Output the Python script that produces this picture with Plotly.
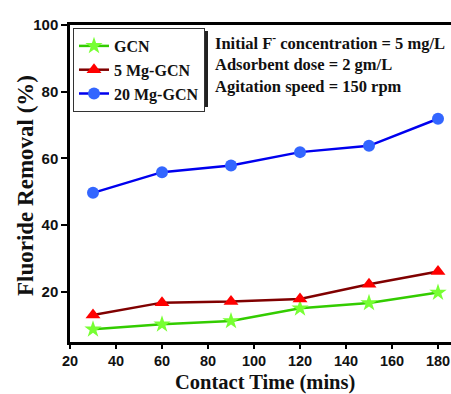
import plotly.graph_objects as go

time = [30, 60, 90, 120, 150, 180]
gcn = [8.8, 10.3, 11.3, 15.1, 16.7, 19.8]
mg5 = [13.1, 16.8, 17.1, 17.9, 22.3, 26.1]
mg20 = [49.7, 55.9, 57.9, 61.9, 63.8, 71.9]

serif = "Liberation Serif"
sans = "Liberation Sans"

L, R, T, B = 70, 451, 25, 342
W, H = 451, 394


def px(xp):
    return (xp - L) / (R - L)


def py(yp):
    return 1 - (yp - T) / (B - T)


fig = go.Figure()
fig.add_trace(go.Scatter(x=time, y=gcn, name="GCN", mode="lines+markers",
                         line=dict(color="#33cc00", width=2.5),
                         marker=dict(symbol="star", size=13, color="#77ff33", line=dict(width=0))))
fig.add_trace(go.Scatter(x=time, y=mg5, name="5 Mg-GCN", mode="lines+markers",
                         line=dict(color="#800000", width=2.5),
                         marker=dict(symbol="triangle-up", size=13, color="#ff0000", line=dict(width=0))))
fig.add_trace(go.Scatter(x=time, y=mg20, name="20 Mg-GCN", mode="lines+markers",
                         line=dict(color="#0000ee", width=2.5),
                         marker=dict(symbol="circle", size=12, color="#3366ff", line=dict(width=0))))

notes = ["Initial F<sup>-</sup> concentration = 5 mg/L",
         "Adsorbent dose = 2 gm/L",
         "Agitation speed = 150 rpm"]
for i, t in enumerate(notes):
    fig.add_annotation(text=t, xref="paper", yref="paper",
                       x=px(213), y=py(42 + 22 * i),
                       xanchor="left", yanchor="middle", showarrow=False,
                       font=dict(family=serif, size=16.5, color="#111", weight="bold"))

# axis titles
fig.add_annotation(text="Contact Time (mins)", xref="paper", yref="paper",
                   x=px(265), y=py(382), xanchor="center", yanchor="middle", showarrow=False,
                   borderpad=0,
                   font=dict(family=serif, size=20.5, color="#111", weight="bold"))
fig.add_annotation(text="Fluoride Removal (%)", xref="paper", yref="paper", textangle=-90,
                   x=px(26), y=py(186), xanchor="center", yanchor="middle", showarrow=False,
                   font=dict(family=serif, size=23, color="#111", weight="bold"))

# legend shadow
fig.add_shape(type="rect", xref="paper", yref="paper",
              x0=px(76), x1=px(208), y0=py(107), y1=py(31),
              fillcolor="#222", line=dict(width=0), layer="below")

fig.update_layout(
    width=W, height=H,
    margin=dict(l=L, r=W - R, t=T, b=H - B),
    paper_bgcolor="white", plot_bgcolor="white",
    showlegend=True,
    legend=dict(x=px(73), y=py(28), xanchor="left", yanchor="top",
                bgcolor="white", bordercolor="#333", borderwidth=1,
                font=dict(family=serif, size=16, color="#111", weight="bold"),
                itemwidth=30, tracegroupgap=0),
    xaxis=dict(range=[20, 20 + (R - L) / 46 * 20], tickvals=[20, 40, 60, 80, 100, 120, 140, 160, 180],
               showline=True, linecolor="black", linewidth=2.5, mirror=True,
               ticks="outside", ticklen=4, tickwidth=2, tickcolor="black",
               showgrid=False, zeroline=False, ticklabeloverflow="allow",
               tickfont=dict(family=sans, size=14.5, color="#111", weight="bold")),
    yaxis=dict(range=[5, 100], tickvals=[20, 40, 60, 80, 100],
               showline=True, linecolor="black", linewidth=2.5, mirror=False,
               ticks="outside", ticklen=6, tickwidth=2, tickcolor="black",
               showgrid=False, zeroline=False,
               tickfont=dict(family=sans, size=15, color="#111", weight="bold")),
)

fig.write_html("out.html")
